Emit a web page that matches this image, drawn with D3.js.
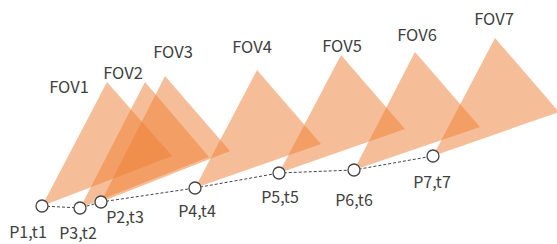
<!DOCTYPE html>
<html><head><meta charset="utf-8">
<script src="https://cdn.jsdelivr.net/npm/d3@7"></script>
<style>body{margin:0;background:#fff}svg{display:block}</style>
</head><body>
<svg id="c" width="557" height="244"></svg>
<script>
// Data
const pointLabels = ["P1,t1","P3,t2","P2,t3","P4,t4","P5,t5","P6,t6","P7,t7"];
const fovLabels = ["FOV1","FOV2","FOV3","FOV4","FOV5","FOV6","FOV7"];
const pointX = [42, 80, 101, 195, 279, 354, 433];
const pointY = [206, 208, 202, 188, 173, 170, 156];
const apexX  = [107, 145, 165, 257, 341, 415, 495];
const apexY  = [82, 82, 76, 70, 55, 52, 38];
const rightX = [172, 209, 230, 321, 405, 480, 559];
const rightY = [156, 157, 151, 144, 129, 127, 112];
const fovLabelX = [69, 123, 173, 252, 342, 417, 494];
const fovLabelY = [93, 79, 58, 53, 52, 41, 25];
const ptLabelX = [28, 78, 125, 197, 280, 354, 432];
const ptLabelY = [238, 239, 223, 217, 203, 206, 188];

const W = 557, H = 244;
const x = d3.scaleLinear().domain([0, 557]).range([0, W]);
const y = d3.scaleLinear().domain([0, 244]).range([0, H]);
const svg = d3.select("#c");
const font = "'Noto Sans CJK SC', 'Noto Sans', sans-serif";

const tri = pointX.map((_, i) => [[pointX[i], pointY[i]], [apexX[i], apexY[i]], [rightX[i], rightY[i]]]);
svg.append("g").selectAll("path").data(tri).join("path")
  .attr("d", d => "M" + d.map(p => x(p[0]) + "," + y(p[1])).join("L") + "Z")
  .attr("fill", "#ED7D31").attr("fill-opacity", 0.5);

const line = d3.line().x((d, i) => x(pointX[i])).y((d, i) => y(pointY[i]));
svg.append("path").attr("d", line(pointX))
  .attr("fill", "none").attr("stroke", "#444").attr("stroke-width", 1)
  .attr("stroke-dasharray", "3,2");

svg.append("g").selectAll("circle").data(pointX).join("circle")
  .attr("cx", (d, i) => x(pointX[i])).attr("cy", (d, i) => y(pointY[i]))
  .attr("r", 6).attr("fill", "#fff").attr("stroke", "#444").attr("stroke-width", 1.3);

svg.append("g").selectAll("text").data(fovLabels).join("text")
  .attr("x", (d, i) => x(fovLabelX[i])).attr("y", (d, i) => y(fovLabelY[i]))
  .attr("text-anchor", "middle").attr("font-family", font).attr("font-size", 16.5)
  .attr("fill", "#404040").text(d => d);

svg.append("g").selectAll("text").data(pointLabels).join("text")
  .attr("x", (d, i) => x(ptLabelX[i])).attr("y", (d, i) => y(ptLabelY[i]))
  .attr("text-anchor", "middle").attr("font-family", font).attr("font-size", 16)
  .attr("fill", "#404040").text(d => d);
</script>
</body></html>
